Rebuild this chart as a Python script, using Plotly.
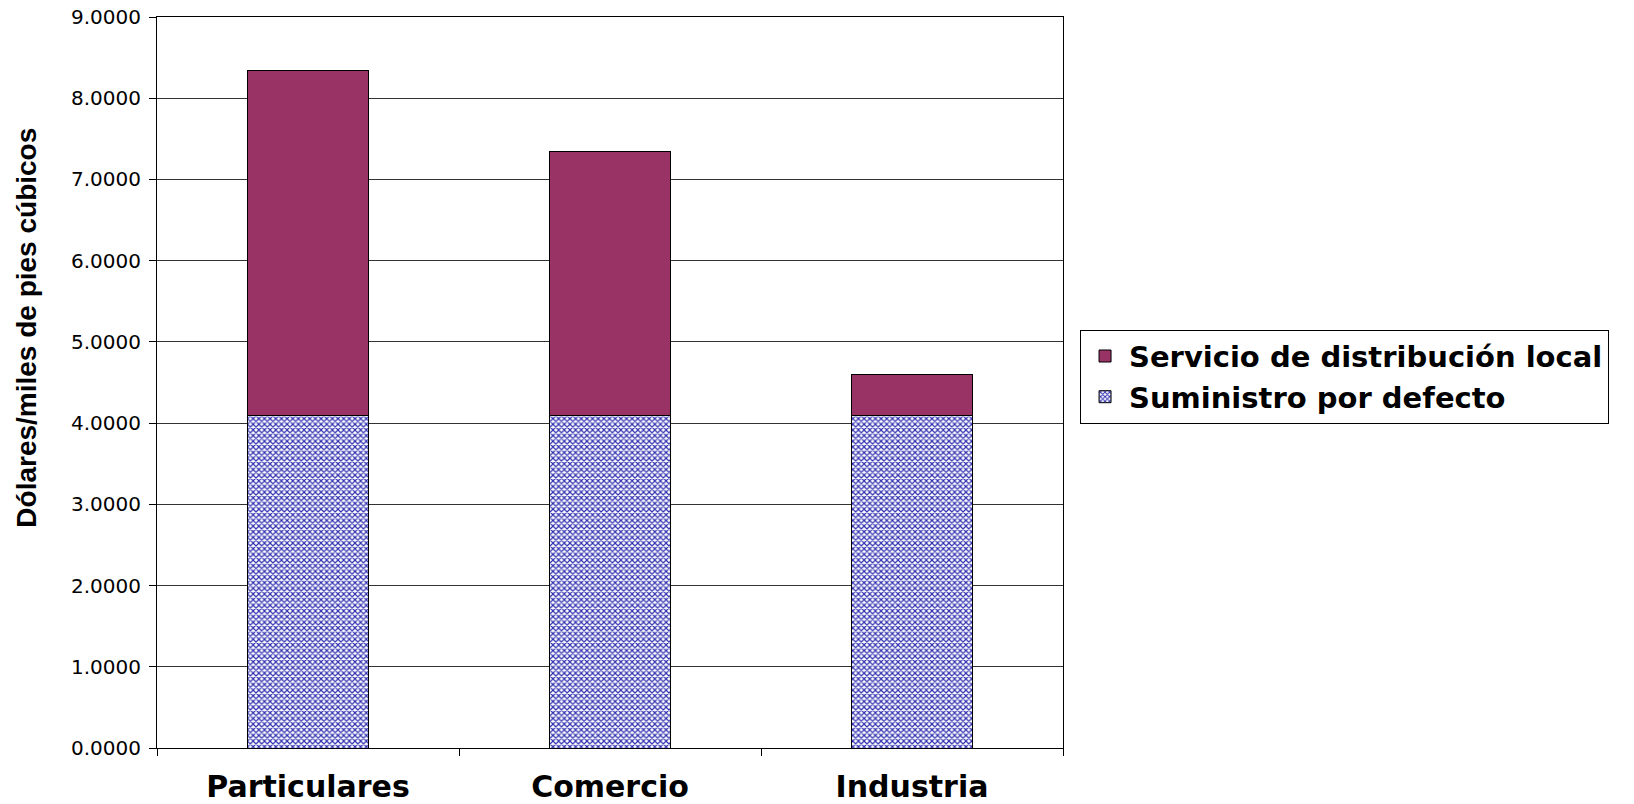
import plotly.graph_objects as go

categories = ["Particulares", "Comercio", "Industria"]
suministro = [4.09, 4.09, 4.09]
servicio = [4.25, 3.26, 0.51]
y_ticks = [0, 1, 2, 3, 4, 5, 6, 7, 8, 9]

series_names = ["Suministro por defecto", "Servicio de distribución local"]
y_title = "Dólares/miles de pies cúbicos"

fig = go.Figure()
fig.add_trace(go.Bar(
    x=categories, y=suministro, name=series_names[0],
    marker=dict(color="#ffffff",
                line=dict(color="#000000", width=1),
                pattern=dict(shape="x", size=4, solidity=0.5,
                             fgcolor="#3030b0", bgcolor="#ffffff", fillmode="replace")),
))
fig.add_trace(go.Bar(
    x=categories, y=servicio, name=series_names[1],
    marker=dict(color="#993366", line=dict(color="#000000", width=1)),
))

fig.update_layout(
    width=1634, height=804,
    barmode="stack", bargap=0.6,
    plot_bgcolor="#ffffff", paper_bgcolor="#ffffff",
    margin=dict(l=157, r=571, t=17, b=56, autoexpand=False),
    font=dict(family="DejaVu Sans, Arial, sans-serif", color="#000000"),
    showlegend=True,
    legend=dict(
        x=1.0188, y=0.508, xanchor="left", yanchor="middle",
        traceorder="reversed",
        bordercolor="#000000", borderwidth=1, bgcolor="#ffffff",
        font=dict(family="DejaVu Sans, Arial, sans-serif", size=29, weight="bold", color="#000000"),
        itemwidth=38, tracegroupgap=0,
    ),
    annotations=[dict(
        text=y_title, textangle=-90,
        xref="paper", yref="paper", x=-0.1435, y=0.575,
        xanchor="center", yanchor="middle", showarrow=False,
        font=dict(family="Arial, Liberation Sans, sans-serif",
                  size=28, weight="bold", color="#000000"),
    )],
)

fig.update_yaxes(
    range=[0, 9], tickvals=y_ticks, tickformat=".4f",
    showgrid=True, gridcolor="#333333", gridwidth=1,
    showline=True, linecolor="#000000", linewidth=1, mirror=True,
    ticks="outside", ticklen=7, tickcolor="#000000",
    ticklabelstandoff=4, automargin=False, ticklabeloverflow="allow",
    tickfont=dict(family="DejaVu Sans, Arial, sans-serif", size=20, color="#000000"),
    zeroline=False,
)
fig.update_xaxes(
    showline=True, linecolor="#000000", linewidth=1, mirror=True,
    ticks="outside", ticklen=7, tickcolor="#000000", tickson="boundaries",
    ticklabelstandoff=12, automargin=False, ticklabeloverflow="allow",
    tickfont=dict(family="DejaVu Sans, Arial, sans-serif", size=30, weight="bold", color="#000000"),
    showgrid=False,
)

fig.write_html(
    "out.html",
    config={"displayModeBar": False},
    post_script="document.body.style.margin='0';document.body.style.overflow='hidden';",
)
